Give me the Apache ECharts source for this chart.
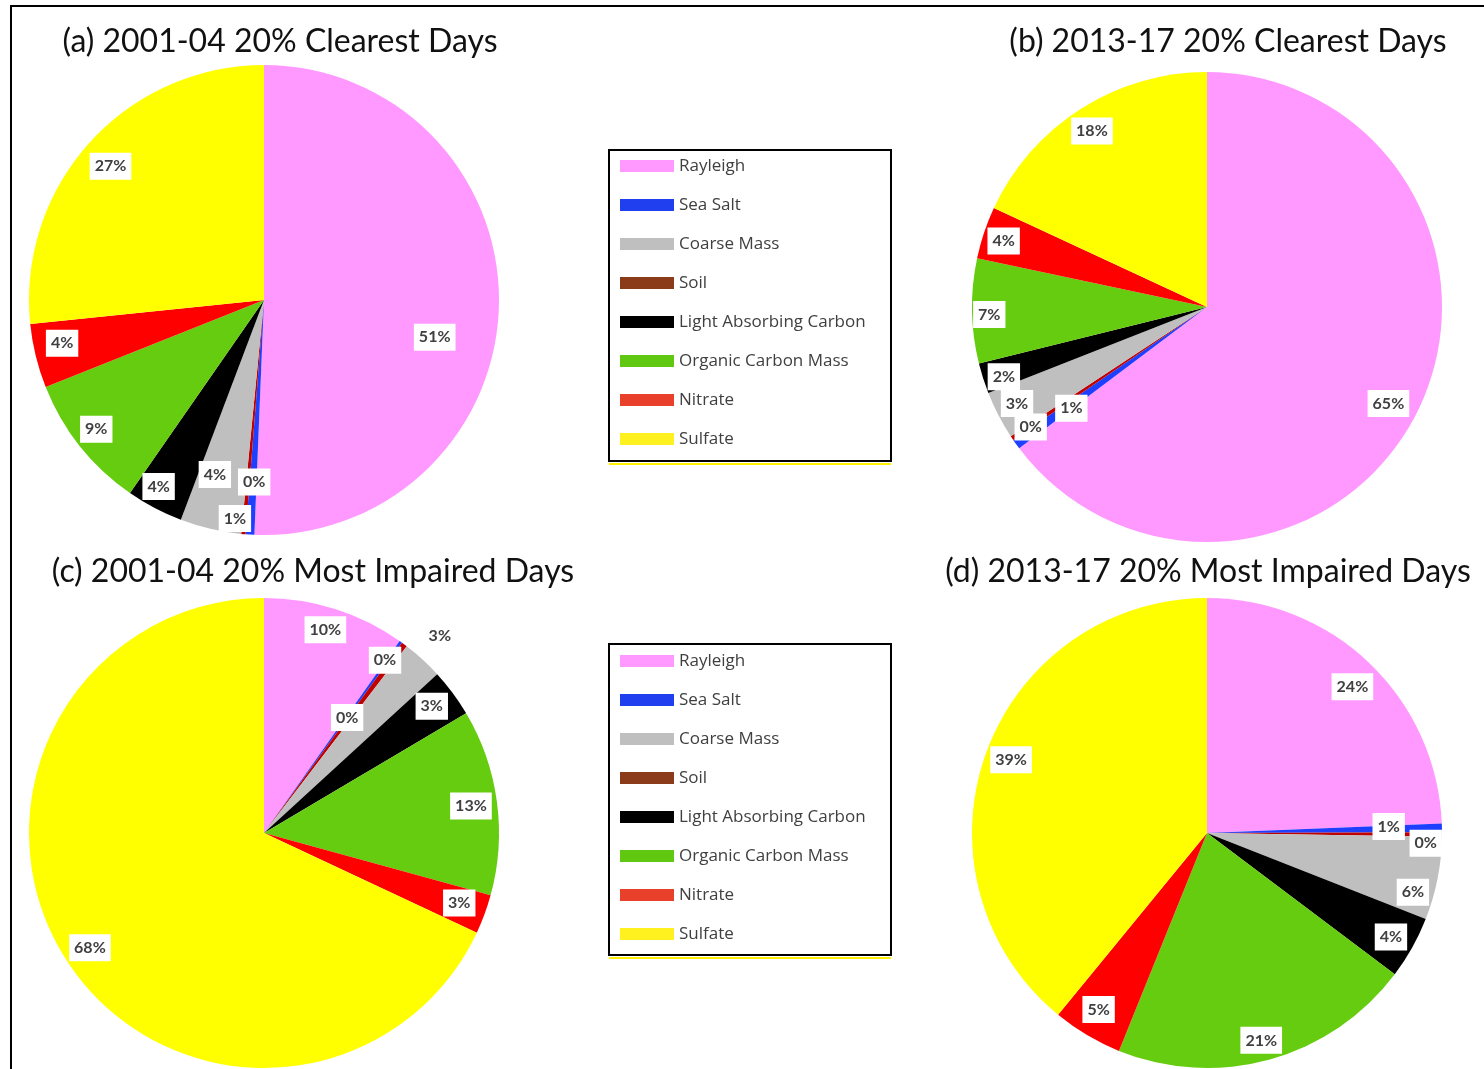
<!DOCTYPE html>
<html>
<head>
<meta charset="utf-8">
<script src="https://cdn.jsdelivr.net/npm/echarts@6/dist/echarts.min.js"></script>
<style>
  html, body { margin: 0; padding: 0; background: #fff; }
  #chart { width: 1484px; height: 1069px; }
</style>
</head>
<body>
<div id="chart"></div>
<script>
// legend order (as in the legend boxes)
const legendNames = ['Rayleigh', 'Sea Salt', 'Coarse Mass', 'Soil', 'Light Absorbing Carbon', 'Organic Carbon Mass', 'Nitrate', 'Sulfate'];
const legendColors = ['#FF99FF', '#2040F0', '#BFBFBF', '#8B3A1A', '#000000', '#60C810', '#E8402A', '#FFF020'];

// slice order clockwise from 12 o'clock
const sliceNames = ['Rayleigh', 'Sea Salt', 'Soil', 'Coarse Mass', 'Light Absorbing Carbon', 'Organic Carbon Mass', 'Nitrate', 'Sulfate'];
const sliceColors = ['#FF99FF', '#1F3FFF', '#C00000', '#BFBFBF', '#000000', '#66CC0F', '#FF0000', '#FFFF00'];

// percent contribution to light extinction
const clear0104 = [50.6, 0.6, 0.3, 4.2, 3.9, 9.3, 4.4, 26.6];
const clear1317 = [64.8, 0.7, 0.3, 3.3, 2.1, 7.2, 3.6, 18.1];
const impaired0104 = [9.8, 0.2, 0.4, 2.8, 3.3, 12.8, 2.7, 68.1];
const impaired1317 = [24.3, 0.6, 0.3, 5.7, 4.3, 20.8, 4.8, 39.0];

const panelTitles = ['(a) 2001-04 20% Clearest Days', '(b) 2013-17 20% Clearest Days',
                     '(c) 2001-04 20% Most Impaired Days', '(d) 2013-17 20% Most Impaired Days'];

const myChart = echarts.init(document.getElementById('chart'));

const R = 235;
// label nudges (px) per slice, to mimic Excel's "best fit" placement
const panels = [
    { values: clear0104, center: [264, 300], title: [280, 42],
      nudge: [[-32, 33], [-17, 16], [8, -20], [-3, -23], [-11, 7], [-9, 3], [-5, -5], [-3, 2]] },
    { values: clear1317, center: [1207, 307], title: [1228, 42],
      nudge: [[0, 6], [29, -17], [-8, 7], [-10, 3], [-10, 8], [-15, 4], [-11, -2], [-6, -5]] },
    { values: impaired0104, center: [264, 833], title: [313, 572],
      nudge: [[0, -10], [3, -8], [-38, 47], [39, -48], [5, -6], [6, 0], [5, 0], [-3, 6]] },
    { values: impaired1317, center: [1207, 833], title: [1208, 572],
      nudge: [[5, 0], [-21, -2], [16, 9], [7, 20], [7, 5], [0, 12], [-5, 2], [-5, -5]] }
];

const labelStyle = {
    show: true,
    position: 'inside',
    formatter: function (p) { return Math.round(p.value) + '%'; },
    fontFamily: 'Lato',
    fontWeight: 'bold',
    fontSize: 16,
    color: '#404040',
    backgroundColor: '#ffffff',
    padding: [6, 5, 5, 5]
};

const series = [];
panels.forEach(function (pn, k) {
    // the pie itself
    series.push({
        type: 'pie',
        center: pn.center,
        radius: [0, R],
        startAngle: 90,
        clockwise: true,
        silent: true,
        label: { show: false },
        labelLine: { show: false },
        emphasis: { disabled: true },
        itemStyle: { borderWidth: 0 },
        data: sliceNames.map(function (n, i) {
            return { name: n, value: pn.values[i], itemStyle: { color: sliceColors[i] } };
        })
    });
    // transparent copy that carries the labels further out
    series.push({
        type: 'pie',
        center: pn.center,
        radius: [R * 0.7, R],
        startAngle: 90,
        clockwise: true,
        silent: true,
        avoidLabelOverlap: false,
        label: labelStyle,
        labelLine: { show: false },
        labelLayout: function (params) {
            const n = pn.nudge[params.dataIndex] || [0, 0];
            return { dx: n[0], dy: n[1], hideOverlap: false };
        },
        emphasis: { disabled: true },
        itemStyle: { color: 'rgba(0,0,0,0)', borderWidth: 0 },
        data: sliceNames.map(function (n, i) {
            return { name: n, value: pn.values[i] };
        })
    });
});

function legendBox(top) {
    return {
        orient: 'vertical',
        left: 620,
        top: top,
        padding: 0,
        selectedMode: false,
        icon: 'rect',
        itemWidth: 54,
        itemHeight: 12,
        itemGap: 19,
        textStyle: { fontFamily: 'Open Sans', fontSize: 17, color: '#404040', lineHeight: 20 },
        data: legendNames.map(function (n, i) {
            return { name: n, itemStyle: { color: legendColors[i], borderWidth: 0 } };
        })
    };
}

const graphics = [
    { type: 'rect', shape: { x: 11, y: 6, width: 1500, height: 1100 }, style: { fill: 'none', stroke: '#000', lineWidth: 2 }, z: 10 },
    { type: 'rect', shape: { x: 609, y: 150, width: 282, height: 311 }, style: { fill: 'none', stroke: '#000', lineWidth: 2 } },
    { type: 'rect', shape: { x: 609, y: 644, width: 282, height: 311 }, style: { fill: 'none', stroke: '#000', lineWidth: 2 } },
    { type: 'line', shape: { x1: 609, y1: 464, x2: 891, y2: 464 }, style: { stroke: '#FFF000', lineWidth: 2 } },
    { type: 'line', shape: { x1: 609, y1: 958, x2: 891, y2: 958 }, style: { stroke: '#FFF000', lineWidth: 2 } }
];
panels.forEach(function (pn, k) {
    graphics.push({
        type: 'text',
        x: pn.title[0],
        y: pn.title[1],
        style: {
            text: panelTitles[k],
            font: '32px Lato',
            fill: '#111',
            textAlign: 'center',
            textVerticalAlign: 'middle'
        }
    });
});

myChart.setOption({
    animation: false,
    legend: [legendBox(156), legendBox(651)],
    graphic: graphics,
    series: series
});
</script>
</body>
</html>
